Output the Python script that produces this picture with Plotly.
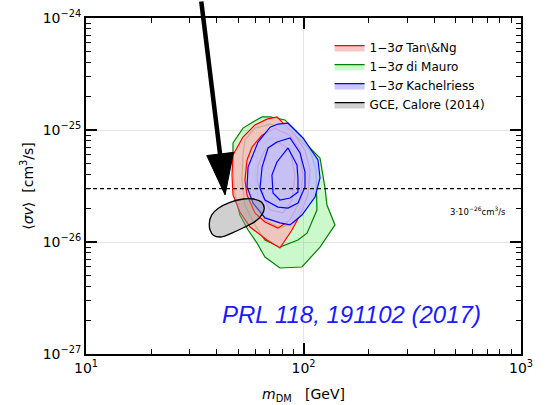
import plotly.graph_objects as go
import math

# ---------------- data ----------------
# di Mauro (green) contours: mass [GeV], <sigma v> [cm^3/s]
green3_m = [47.4, 52.7, 58.6, 64.5, 70.2, 82.2, 96.4, 103.8, 119.1, 125.6, 128.2, 139.6, 119.1, 98.4, 77.9, 66.5, 61.1, 55.6, 51.0, 48.4, 47.4]
green3_sv = [7.65e-26, 1.04e-25, 1.18e-25, 1.31e-25, 1.31e-25, 1.23e-25, 9.0e-26, 7.35e-26, 5.62e-26, 3.03e-26, 2.14e-26, 1.42e-26, 9.0e-27, 5.98e-27, 5.86e-27, 7.34e-27, 9.8e-27, 1.28e-26, 1.74e-26, 2.63e-26, 4.40e-26]
green2_m = [53.8, 59.8, 70.2, 86.7, 107.2, 114.1, 115.3, 103.8, 94.3, 77.9, 66.5, 59.8, 53.8, 52.1, 52.7]
green2_sv = [8.14e-26, 1.04e-25, 1.13e-25, 1.0e-25, 6.63e-26, 4.40e-26, 1.93e-26, 1.20e-26, 1.04e-26, 9.0e-27, 1.04e-26, 1.42e-26, 2.14e-26, 3.58e-26, 5.98e-26]
green1_m = [61.8, 70.2, 82.2, 96.4, 99.5, 91.4, 77.9, 66.5, 61.8, 59.8]
green1_sv = [6.63e-26, 8.49e-26, 8.14e-26, 5.40e-26, 2.37e-26, 1.51e-26, 1.33e-26, 1.57e-26, 2.37e-26, 3.96e-26]

# Tan & Ng (red) contours
red3_m = [47.4, 52.7, 59.8, 67.9, 75.5, 82.2, 91.4, 101.6, 107.2, 104.9, 96.4, 88.5, 77.9, 67.9, 56.8, 51.0, 47.4, 46.9]
red3_sv = [5.98e-26, 8.66e-26, 1.11e-25, 1.25e-25, 1.31e-25, 1.11e-25, 9.0e-26, 6.63e-26, 4.40e-26, 2.63e-26, 1.74e-26, 1.28e-26, 8.83e-27, 1.04e-26, 1.36e-26, 1.85e-26, 2.63e-26, 3.96e-26]
red2_m = [55.0, 58.0, 64.5, 73.9, 86.7, 96.4, 99.5, 96.4, 86.7, 76.3, 66.5, 59.8, 55.0, 53.8]
red2_sv = [5.40e-26, 7.05e-26, 9.0e-26, 1.04e-25, 9.0e-26, 6.63e-26, 3.96e-26, 2.37e-26, 1.57e-26, 1.33e-26, 1.51e-26, 1.82e-26, 2.63e-26, 3.58e-26]
red1_m = [61.8, 66.5, 76.3, 86.7, 91.4, 88.5, 80.5, 70.2, 64.5, 61.1]
red1_sv = [4.87e-26, 6.63e-26, 7.81e-26, 6.63e-26, 3.96e-26, 2.37e-26, 1.82e-26, 1.93e-26, 2.63e-26, 3.58e-26]

# Kachelriess (blue) contours
blue3_m = [76.3, 84.9, 99.5, 116.6, 119.1, 113.0, 98.4, 86.7, 77.9, 66.5, 58.6, 55.0, 55.6, 61.8, 70.2]
blue3_sv = [1.13e-25, 1.15e-25, 8.49e-26, 5.40e-26, 3.73e-26, 2.52e-26, 1.74e-26, 1.42e-26, 1.48e-26, 1.64e-26, 2.23e-26, 3.10e-26, 4.67e-26, 7.81e-26, 1.06e-25]
blue2_m = [75.5, 86.7, 96.4, 101.6, 101.6, 94.3, 84.9, 76.3, 66.5, 63.1, 64.5, 68.7]
blue2_sv = [7.81e-26, 8.49e-26, 6.23e-26, 4.22e-26, 3.10e-26, 2.23e-26, 2.01e-26, 2.05e-26, 2.37e-26, 3.03e-26, 4.67e-26, 6.91e-26]
blue1_m = [84.9, 93.3, 94.3, 94.3, 86.7, 77.9, 72.4, 71.6, 75.5]
blue1_sv = [6.91e-26, 4.87e-26, 3.73e-26, 2.79e-26, 2.47e-26, 2.37e-26, 2.74e-26, 3.96e-26, 5.18e-26]

# GCE, Calore (2014) region
gce_m = [36.9, 37.8, 40.6, 45.9, 52.9, 58.8, 64.2, 66.0, 64.2, 59.8, 52.9, 46.8, 42.1, 38.5, 37.2]
gce_sv = [1.47e-26, 1.74e-26, 2.00e-26, 2.26e-26, 2.42e-26, 2.42e-26, 2.26e-26, 2.00e-26, 1.74e-26, 1.52e-26, 1.34e-26, 1.20e-26, 1.11e-26, 1.15e-26, 1.28e-26]

thermal_sv = 3e-26
x_range = [10, 1000]
arrow_tip = (43.6, 2.63e-26)

x_tickvals = [10, 100, 1000]
x_ticktext = ["10<sup>1</sup>", "10<sup>2</sup>", "10<sup>3</sup>"]
y_tickvals = [1e-27, 1e-26, 1e-25, 1e-24]
y_ticktext = ["10<sup>\u221227</sup>", "10<sup>\u221226</sup>", "10<sup>\u221225</sup>", "10<sup>\u221224</sup>"]

legend_names = ["1\u22123<i>\u03c3</i> Tan\\&Ng", "1\u22123<i>\u03c3</i> di Mauro",
                "1\u22123<i>\u03c3</i> Kachelriess", "GCE, Calore (2014)"]


def closed(a):
    return list(a) + [a[0]]


fig = go.Figure()

groups = [
    ("green", legend_names[1], [(green3_m, green3_sv), (green2_m, green2_sv), (green1_m, green1_sv)],
     "rgba(0,225,0,0.2)", "#008000"),
    ("red", legend_names[0], [(red3_m, red3_sv), (red2_m, red2_sv), (red1_m, red1_sv)],
     "rgba(248,185,185,0.8)", "#ff0000"),
    ("blue", legend_names[2], [(blue3_m, blue3_sv), (blue2_m, blue2_sv), (blue1_m, blue1_sv)],
     "rgba(190,190,255,0.85)", "#0000ff"),
]
legend_rank = {"red": 1, "green": 2, "blue": 3}

for key, name, contours, fillc, linec in groups:
    for i, (m, sv) in enumerate(contours):
        fig.add_trace(go.Scatter(
            x=closed(m), y=closed(sv), mode="lines",
            line=dict(color=linec, width=1.2),
            fill="toself" if i == 0 else "none",
            fillcolor=fillc,
            name=name, showlegend=(i == 0), legendrank=legend_rank[key],
            hoverinfo="skip"))

fig.add_trace(go.Scatter(
    x=closed(gce_m), y=closed(gce_sv), mode="lines",
    line=dict(color="black", width=1.3, shape="spline", smoothing=1.0),
    fill="toself", fillcolor="rgba(150,150,150,0.45)",
    name=legend_names[3], legendrank=4, hoverinfo="skip"))

fig.add_trace(go.Scatter(
    x=x_range, y=[thermal_sv, thermal_sv], mode="lines",
    line=dict(color="black", width=1.3, dash="4px,3px"),
    showlegend=False, hoverinfo="skip"))

# arrow shaft
fig.add_annotation(x=math.log10(arrow_tip[0]), y=math.log10(arrow_tip[1]), xref="x", yref="y",
                   ax=-24, ay=-200, axref="pixel", ayref="pixel",
                   text="", showarrow=True, arrowhead=0, arrowwidth=4.5,
                   arrowcolor="black", standoff=30)
# arrow head
fig.add_shape(type="path", xref="x", yref="y", xsizemode="pixel", ysizemode="pixel",
              xanchor=arrow_tip[0], yanchor=arrow_tip[1],
              path="M0,0 L-18.3,39.4 L8.4,42.6 Z",
              fillcolor="black", line=dict(color="black", width=1))

fig.add_annotation(x=0.9, y=0.426, xref="paper", yref="paper", xanchor="center", yanchor="middle",
                   text="3\u00b710<sup>\u221226</sup>cm<sup>3</sup>/s", showarrow=False,
                   font=dict(family="DejaVu Sans", size=8.5, color="black"))
fig.add_annotation(x=0.611, y=0.118, xref="paper", yref="paper", xanchor="center", yanchor="middle",
                   text="<i>PRL 118, 191102 (2017)</i>", showarrow=False,
                   font=dict(family="Liberation Sans", size=24, color="#1a1aff"))

minor_x = [k * 10 ** e for e in (1, 2) for k in range(2, 10)]
minor_y = [k * 10.0 ** e for e in (-27, -26, -25) for k in range(2, 10)]

axis_common = dict(
    type="log", showline=True, linecolor="black", linewidth=2, mirror="allticks",
    ticks="inside", ticklen=11, tickwidth=1.8, tickcolor="black",
    showgrid=True, gridcolor="#e5e5e5", gridwidth=1, zeroline=False, automargin=False,
    tickfont=dict(family="DejaVu Sans", size=14, color="black"),
)

fig.update_layout(
    width=547, height=405,
    margin=dict(l=86, r=26, t=18, b=51),
    paper_bgcolor="white", plot_bgcolor="white",
    font=dict(family="DejaVu Sans", color="black"),
    xaxis=dict(axis_common, range=[1, 3], tickvals=x_tickvals, ticktext=x_ticktext,
               minor=dict(tickvals=minor_x, ticks="inside", ticklen=5, tickwidth=1.3,
                          tickcolor="black", showgrid=False),
               title=dict(text="<i>m</i><sub>DM</sub>   [GeV]", standoff=14,
                          font=dict(family="DejaVu Sans", size=14))),
    yaxis=dict(axis_common, range=[-27, -24], tickvals=y_tickvals, ticktext=y_ticktext,
               minor=dict(tickvals=minor_y, ticks="inside", ticklen=5, tickwidth=1.3,
                          tickcolor="black", showgrid=False),
               title=dict(text="\u27e8<i>\u03c3v</i>\u27e9  [cm<sup>3</sup>/s]", standoff=6,
                          font=dict(family="DejaVu Sans", size=14))),
    legend=dict(x=0.56, y=0.955, xanchor="left", yanchor="top", bgcolor="rgba(0,0,0,0)",
                font=dict(family="DejaVu Sans", size=12), tracegroupgap=0),
    showlegend=True,
)

fig.write_html("out.html")
